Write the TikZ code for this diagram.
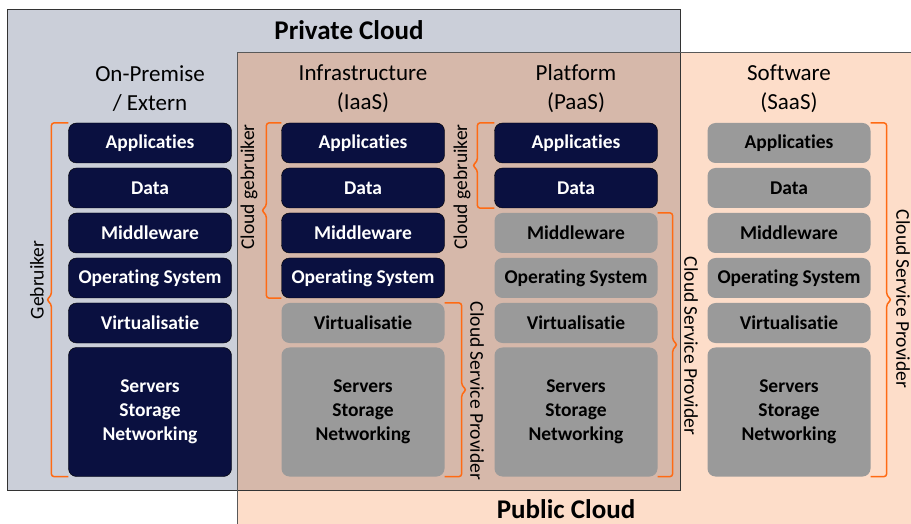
\documentclass[tikz,border=0pt]{standalone}
\usepackage{fontspec}
\setmainfont[Ligatures={NoCommon,NoRare,NoContextual}]{Carlito}
\usepackage{tikz}
\usetikzlibrary{positioning}
\usetikzlibrary{calc}

\definecolor{navy}{HTML}{0A1040}
\definecolor{grijs}{HTML}{9A9A9A}
\definecolor{prive}{HTML}{CBCFD9}
\definecolor{publiek}{HTML}{FDDDC9}
\definecolor{overlap}{HTML}{D6B8AA}
\definecolor{oranje}{HTML}{FF6A13}

% accolades links en rechts van een stapel lagen
\newcommand{\haakL}[3]{%
\draw[haak] (#1.north west) -- ++(-#3,0) -- ($(#1.north west)!.5!(#2.south west)+(-#3,-4)$) -- ++(-5,4) -- ++(5,4) -- ($(#2.south west)+(-#3,0)$) -- (#2.south west);}
\newcommand{\haakR}[3]{%
\draw[haak] (#1.north east) -- ++(#3,0) -- ($(#1.north east)!.5!(#2.south east)+(#3,-4)$) -- ++(5,4) -- ++(-5,4) -- ($(#2.south east)+(#3,0)$) -- (#2.south east);}

\begin{document}
\begin{tikzpicture}[x=1bp,y=-1bp]
% stijlen
\tikzset{laag/.style={rounded corners=8bp,minimum width=163bp,minimum height=40bp,align=center,
    font=\bfseries\fontsize{19.5bp}{24bp}\selectfont,inner sep=0pt}}
\tikzset{eigen/.style={fill=navy,draw=black,text=white}}
\tikzset{dienst/.style={fill=grijs,draw=none,text=black}}
\tikzset{haak/.style={draw=oranje,line width=1.5bp,rounded corners=3bp}}
\tikzset{kolom/.style={font=\fontsize{23bp}{29bp}\selectfont,align=center}}
\tikzset{wolk/.style={font=\bfseries\fontsize{27bp}{32bp}\selectfont}}
\tikzset{rol/.style={font=\fontsize{19.5bp}{24bp}\selectfont}}
\useasboundingbox (0,0) rectangle (911,524);
% de twee wolken
\fill[publiek] (237,52) rectangle (911,524);
\fill[prive] (7,9) rectangle (680,490);
\fill[overlap] (237,52) rectangle (680,490);
\draw[black!80,line width=0.8bp] (7,9) rectangle (680,490);
\draw[black!65,line width=0.8bp] (911,52) -- (237,52) -- (237,524);
\node[wolk] (privcloud) at (349,30) {Private Cloud};
\node[wolk] (pubcloud) at (566,509) {Public Cloud};
% kolomtitels
\node[kolom] (t1) at (150,88.5) {On-Premise\\/ Extern};
\node[kolom] (t2) at (363,88.5) {Infrastructure\\(IaaS)};
\node[kolom] (t3) at (576,88.5) {Platform\\(PaaS)};
\node[kolom] (t4) at (789,88.5) {Software\\(SaaS)};
% de lagen
\foreach \k/\x/\n in {1/150/6,2/363/4,3/576/2,4/789/0} {
  \foreach \r/\tekst in {1/Applicaties,2/Data,3/Middleware,4/Operating System,5/Virtualisatie} {
    \ifnum\r>\n \def\stijl{dienst}\else\def\stijl{eigen}\fi
    \node[laag,\stijl] (l\k-\r) at (\x,{98+45*\r}) {\tekst};
  }
  \ifnum\n>5 \def\stijl{eigen}\else\def\stijl{dienst}\fi
  \node[laag,\stijl,minimum height=129bp] (l\k-6) at (\x,412) {Servers\\Storage\\Networking};
}
% accolades
\haakL{l1-1}{l1-6}{17}
\haakL{l2-1}{l2-4}{15}
\haakR{l2-5}{l2-6}{17}
\haakL{l3-1}{l3-2}{17}
\haakR{l3-3}{l3-6}{15}
\haakR{l4-1}{l4-6}{16}
\node[rol,rotate=90] (gebr1) at (37,280) {Gebruiker};
\node[rol,rotate=90] (gebr2) at (249,187) {Cloud gebruiker};
\node[rol,rotate=-90] (csp2) at (477,391) {Cloud Service Provider};
\node[rol,rotate=90] (gebr3) at (462,187) {Cloud gebruiker};
\node[rol,rotate=-90] (csp3) at (691,346) {Cloud Service Provider};
\node[rol,rotate=-90] (csp4) at (903,299) {Cloud Service Provider};
\end{tikzpicture}
\end{document}
